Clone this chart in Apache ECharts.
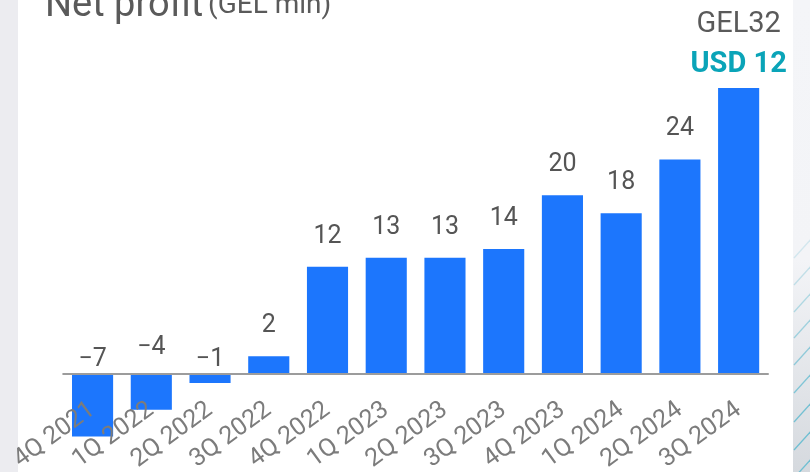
<!DOCTYPE html>
<html>
<head>
<meta charset="utf-8">
<script src="https://cdn.jsdelivr.net/npm/echarts@6/dist/echarts.min.js"></script>
<style>
  html, body { margin: 0; padding: 0; background: #ececf0; }
  #chart { width: 810px; height: 472px; }
</style>
</head>
<body>
<div id="chart"></div>
<script>
// Quarterly net profit, GEL millions
const quarters = ['4Q 2021', '1Q 2022', '2Q 2022', '3Q 2022', '4Q 2022', '1Q 2023',
                  '2Q 2023', '3Q 2023', '4Q 2023', '1Q 2024', '2Q 2024', '3Q 2024'];
const netProfitGel = [-7, -4, -1, 2, 12, 13, 13, 14, 20, 18, 24, 32];
const latestUsd = 12;

const chart = echarts.init(document.getElementById('chart'), null, { renderer: 'canvas' });
const lastIdx = netProfitGel.length - 1;

// gap between a bar's end and its value label (loss quarters sit close to the axis)
const labelGap = i => {
  if (i === lastIdx) return 5;
  const v = netProfitGel[i];
  if (v === -4) return 14;
  if (v < 0) return 2;
  return 18;
};

// decorative stripes on the right-hand margin
const stripes = [258, 285, 312, 338, 365, 393, 422, 450, 478].map((y, k) => ({
  type: 'line',
  shape: { x1: 794, y1: y, x2: 812, y2: y - 20 },
  style: { stroke: '#6fbfd2', lineWidth: 1.3, opacity: Math.min(1, 0.25 + k * 0.12) },
  z: -9
}));

chart.setOption({
  backgroundColor: '#ececf0',
  animation: false,
  graphic: [
    { type: 'rect', shape: { x: 18, y: 0, width: 775, height: 472 }, style: { fill: '#ffffff' }, z: -10 },
    {
      type: 'rect', shape: { x: 793, y: 0, width: 17, height: 472 }, z: -10,
      style: {
        fill: new echarts.graphic.LinearGradient(0, 0, 0, 1, [
          { offset: 0, color: '#f4f5f8' },
          { offset: 0.55, color: '#f3f4f7' },
          { offset: 1, color: '#d5d9de' }
        ])
      }
    },
    ...stripes
  ],
  title: {
    text: '{a|Net profit} {b|(GEL mln)}',
    left: 40,
    top: -21,
    textStyle: {
      fontWeight: 'normal',
      rich: {
        a: { fontFamily: 'Roboto', fontSize: 38, fontWeight: 'normal', color: '#5a5a5a', lineHeight: 44 },
        b: { fontFamily: 'Roboto', fontSize: 28, fontWeight: 'normal', color: '#5a5a5a', lineHeight: 44 }
      }
    }
  },
  grid: { left: 63.2, right: 42, top: 88, bottom: 26.5, containLabel: false, outerBoundsMode: 'none' },
  xAxis: {
    type: 'category',
    data: quarters,
    z: 10,
    axisLine: { onZero: true, lineStyle: { color: '#9c9c9c', width: 2 } },
    axisTick: { show: false },
    axisLabel: {
      rotate: 36,
      margin: -38,
      color: '#7c7c7c',
      fontFamily: 'Roboto',
      fontSize: 25,
      interval: 0,
      hideOverlap: false,
      overflow: 'none'
    }
  },
  yAxis: {
    type: 'value',
    min: -8,
    max: 32,
    show: false,
    splitLine: { show: false }
  },
  series: [{
    type: 'bar',
    z: 2,
    data: netProfitGel.map((v, i) => ({ value: v, label: { distance: labelGap(i) } })),
    barWidth: '70%',
    itemStyle: { color: '#1c76fd' },
    label: {
      show: true,
      position: 'top',
      color: '#555555',
      fontFamily: 'Roboto',
      fontSize: 25,
      formatter: p => p.dataIndex === lastIdx
        ? '{g|GEL' + p.value + '}\n{u|USD ' + latestUsd + '}'
        : String(p.value).replace('-', '\u2212'),
      rich: {
        g: { fontFamily: 'Roboto', fontSize: 29, color: '#5a5a5a', lineHeight: 44 },
        u: { fontFamily: 'Roboto', fontSize: 29, fontWeight: 'bold', color: '#0aa4b8', lineHeight: 36 }
      }
    }
  }]
});
</script>
</body>
</html>
